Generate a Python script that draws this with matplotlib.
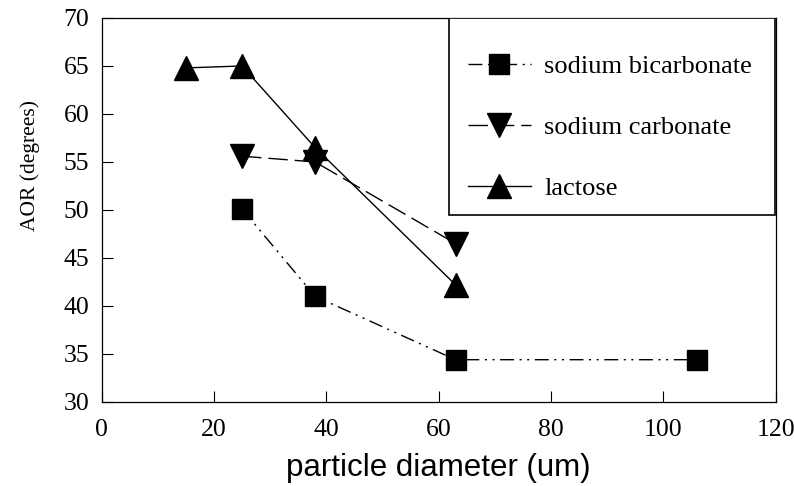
import matplotlib
matplotlib.use("Agg")
import matplotlib.pyplot as plt
from matplotlib.patches import Rectangle

# values
bicarb_x = [25, 38, 63, 106]
bicarb_y = [50.1, 41.0, 34.4, 34.4]

carb_x = [25, 38, 63]
carb_y = [55.6, 55.0, 46.5]

lactose_x = [15, 25, 38, 63]
lactose_y = [64.8, 65.0, 56.5, 42.2]

x_ticks = [0, 20, 40, 60, 80, 100, 120]
y_ticks = [30, 35, 40, 45, 50, 55, 60, 65, 70]

fig = plt.figure(figsize=(7.94, 4.86), dpi=100)
ax = fig.add_axes([0.128, 0.173, 0.849, 0.790])

ax.plot(bicarb_x, bicarb_y, color="black", lw=1.0, marker="s", ms=15,
        linestyle=(0, (10, 4, 1.5, 4, 1.5, 4)), label="sodium bicarbonate")
ax.plot(carb_x, carb_y, color="black", lw=1.0, marker="v", ms=17,
        linestyle=(0, (14, 5)), label="sodium carbonate")
ax.plot(lactose_x, lactose_y, color="black", lw=1.0, marker="^", ms=17,
        linestyle="-", label="lactose")

ax.set_xlim(0, 120)
ax.set_ylim(30, 70)
ax.set_xticks(x_ticks)
ax.set_yticks(y_ticks)
ax.tick_params(direction="in", length=8, width=0.8, labelsize=18.5)
ax.tick_params(axis="x", pad=12)
ax.tick_params(axis="y", pad=9)
for lab in ax.get_xticklabels() + ax.get_yticklabels():
    lab.set_family("Liberation Serif")
for s in ax.spines.values():
    s.set_linewidth(0.9)

ax.set_xlabel("particle diameter (um)", family="Liberation Sans", fontsize=22.5, labelpad=9)
ax.set_ylabel("AOR (degrees)", family="Liberation Serif", fontsize=15.5)
ax.yaxis.set_label_coords(-0.092, 0.617)

# legend box drawn separately so its size matches the original
box = Rectangle((0.515, 0.487), 0.4835, 0.513, transform=ax.transAxes,
                facecolor="white", edgecolor="black", lw=1.2, zorder=4)
ax.add_patch(box)

leg = ax.legend(loc="upper left", bbox_to_anchor=(0.543, 0.904), frameon=False,
                prop={"family": "Liberation Serif", "size": 19},
                labelspacing=1.42, borderpad=0, handlelength=2.4, handletextpad=0.5,
                borderaxespad=0)
leg.set_zorder(5)

fig.savefig("out.png", dpi=100)
